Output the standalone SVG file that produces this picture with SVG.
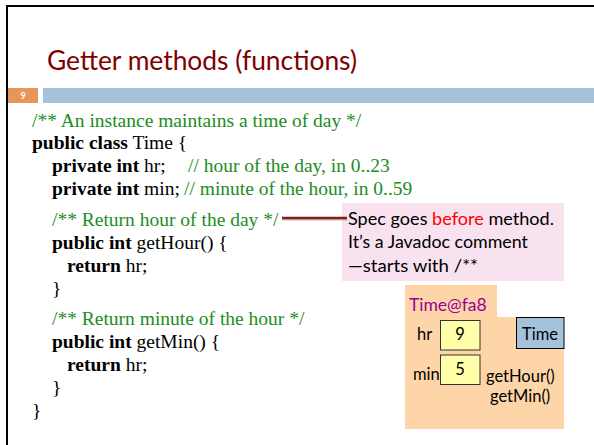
<svg xmlns="http://www.w3.org/2000/svg" width="594" height="445" viewBox="0 0 594 445">
<style>
.code{font-family:"Liberation Serif","Times New Roman",serif;font-size:19.5px;fill:#000}
.b{font-weight:bold}
.cm{fill:#1E8C1E}
.sans{font-family:Lato,"Liberation Sans",sans-serif}
.lbl{font-family:Lato,"Liberation Sans",sans-serif;font-size:16.5px;fill:#000}
</style>
<rect x="0" y="0" width="594" height="445" fill="#fff"/>
<path d="M7 445 V6 H594" fill="none" stroke="#000" stroke-width="2"/>
<g id="title">
<text x="47" y="70" class="sans" font-size="26" fill="#800000" textLength="310" lengthAdjust="spacingAndGlyphs">Getter methods (functions)</text>
</g>
<g id="header-bar">
<rect x="8" y="88" width="30" height="15" fill="#E8955A"/>
<rect x="43" y="88" width="551" height="15" fill="#A4C2DA"/>
<text x="23" y="99" class="sans" font-size="9" font-weight="bold" fill="#fff" text-anchor="middle">9</text>
</g>
<g id="code">
<text x="32" y="127" class="code cm">/** An instance maintains a time of day */</text>
<text x="32" y="149" class="code"><tspan class="b">public class</tspan> Time {</text>
<text x="52" y="172" class="code"><tspan class="b">private int</tspan> hr;</text>
<text x="188" y="172" class="code cm">// hour of the day, in 0..23</text>
<text x="52" y="195" class="code"><tspan class="b">private int</tspan> min;</text>
<text x="184" y="195" class="code cm">// minute of the hour, in 0..59</text>
<text x="52" y="226" class="code cm">/** Return hour of the day */</text>
<text x="52" y="249" class="code"><tspan class="b">public int</tspan> getHour() {</text>
<text x="67" y="272" class="code"><tspan class="b">return</tspan> hr;</text>
<text x="52" y="295" class="code">}</text>
<text x="52" y="325" class="code cm">/** Return minute of the hour */</text>
<text x="52" y="348" class="code"><tspan class="b">public int</tspan> getMin() {</text>
<text x="67" y="371" class="code"><tspan class="b">return</tspan> hr;</text>
<text x="52" y="394" class="code">}</text>
<text x="32" y="417" class="code">}</text>
</g>
<g id="callout">
<rect x="342" y="203" width="222" height="78" fill="#F8E2EF"/>
<text x="348" y="225" class="lbl" textLength="206" lengthAdjust="spacingAndGlyphs">Spec goes <tspan fill="#FF0000">before</tspan> method.</text>
<text x="348" y="248" class="lbl" textLength="180" lengthAdjust="spacingAndGlyphs">It’s a Javadoc comment</text>
<text x="348" y="272" class="lbl" textLength="130" lengthAdjust="spacingAndGlyphs">—starts with /**</text>
</g>
<g id="connectors">
<line x1="282" y1="219.5" x2="347" y2="219.5" stroke="#999" stroke-width="2" opacity="0.6"/>
<line x1="282" y1="218" x2="347" y2="218" stroke="#8B1A1A" stroke-width="2.5"/>
</g>
<g id="object">
<rect x="405" y="285" width="92" height="33" fill="#FDD5A8"/>
<rect x="405" y="317" width="159" height="112" fill="#FDD5A8"/>
<text x="409" y="311" class="sans" font-size="17.5" fill="#990099">Time@fa8</text>
<text x="417" y="340" class="lbl">hr</text>
<rect x="440.5" y="320.5" width="39.5" height="29.5" fill="#FFFFAA" stroke="#333" stroke-width="1"/>
<text x="460" y="340" class="lbl" font-size="13" text-anchor="middle">9</text>
<text x="413" y="380" class="lbl">min</text>
<rect x="440.5" y="355" width="39.5" height="29.5" fill="#FFFFAA" stroke="#333" stroke-width="1"/>
<text x="460" y="375" class="lbl" font-size="13" text-anchor="middle">5</text>
<rect x="516.5" y="317.5" width="47.5" height="31" fill="#A4C2DA" stroke="#000" stroke-width="1"/>
<text x="540" y="340" class="lbl" text-anchor="middle">Time</text>
<text x="486" y="382" class="lbl">getHour()</text>
<text x="490" y="402" class="lbl">getMin()</text>
</g>
</svg>
